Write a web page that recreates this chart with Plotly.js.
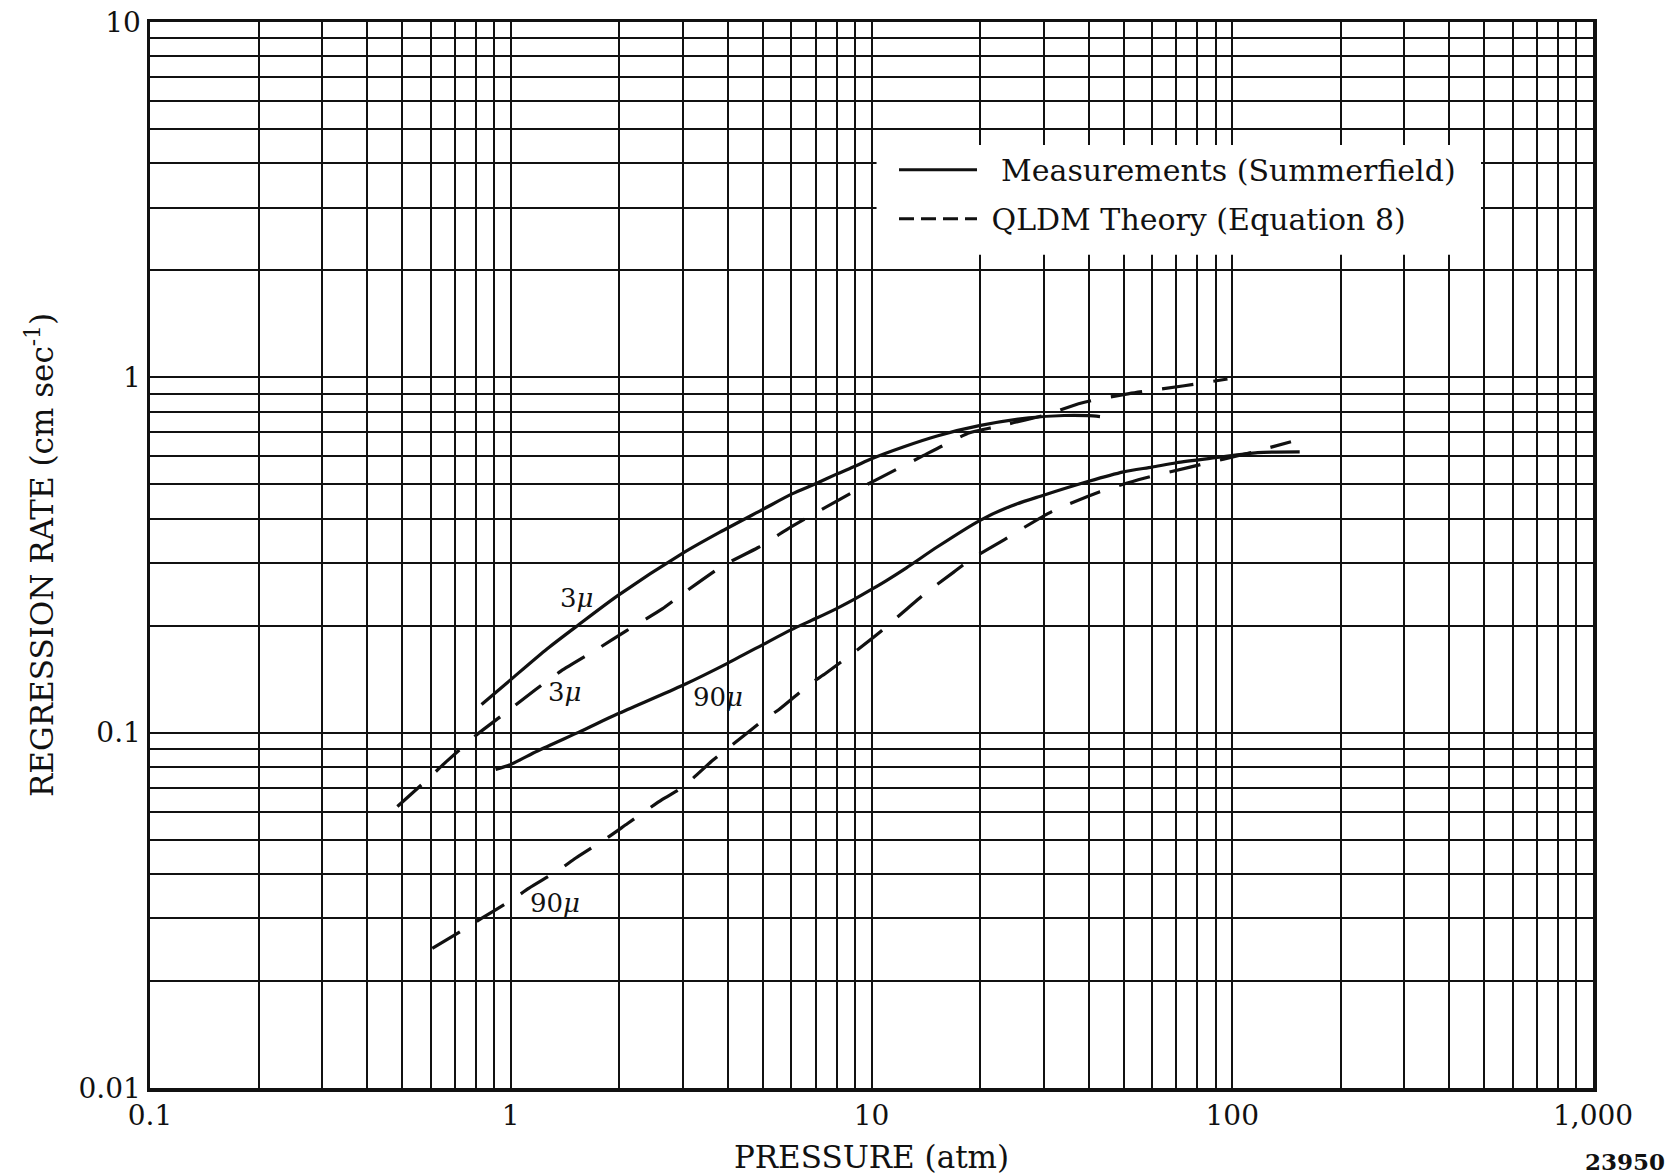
<!DOCTYPE html>
<html>
<head>
<meta charset="utf-8">
<script src="https://cdn.plot.ly/plotly-3.0.1.min.js"></script>
<style>
  html, body { margin: 0; padding: 0; background: #fff; }
  #chart { width: 1676px; height: 1176px; }
</style>
</head>
<body>
<div id="chart"></div>
<script>
// ---------------- data ----------------
// Measurements (Summerfield), 3 micron
const meas3x = [0.83, 1.0, 1.26, 1.53, 1.98, 3, 3.79, 5, 6, 7, 8, 9, 10, 12.3, 15.2, 19.9, 27.3, 34.2, 40, 43];
const meas3y = [0.12, 0.141, 0.172, 0.2, 0.243, 0.32, 0.366, 0.425, 0.469, 0.502, 0.534, 0.562, 0.59, 0.638, 0.684, 0.731, 0.769, 0.781, 0.78, 0.775];

// Measurements (Summerfield), 90 micron
const meas90x = [0.908, 1.0, 1.186, 1.565, 1.98, 3, 4, 5, 6, 7, 8, 9, 10, 11, 12.5, 15.2, 20, 24.3, 29.4, 40, 50, 60, 70, 90, 117.6, 153.8];
const meas90y = [0.0788, 0.0814, 0.0888, 0.101, 0.113, 0.136, 0.157, 0.177, 0.195, 0.2095, 0.2235, 0.238, 0.253, 0.268, 0.291, 0.333, 0.396, 0.434, 0.463, 0.51, 0.542, 0.559, 0.575, 0.594, 0.614, 0.617];

// QLDM Theory (Equation 8), 3 micron
const theo3x = [0.485, 0.58, 0.664, 0.808, 0.948, 1.17, 1.377, 1.74, 2.1, 2.63, 3.08, 3.87, 4.85, 6.0, 7.13, 9.42, 11.3, 13.7, 15.7, 18.7, 22.3, 30, 38.2, 51.8, 73.6, 97];
const theo3y = [0.062, 0.073, 0.083, 0.099, 0.112, 0.132, 0.149, 0.172, 0.194, 0.223, 0.251, 0.295, 0.332, 0.38, 0.42, 0.491, 0.54, 0.597, 0.641, 0.698, 0.727, 0.781, 0.847, 0.9, 0.947, 0.989];

// QLDM Theory (Equation 8), 90 micron
const theo90x = [0.606, 0.726, 0.825, 1.01, 1.124, 1.362, 1.515, 1.846, 2.108, 2.626, 3.0, 3.63, 4.13, 5.11, 5.53, 6.75, 7.47, 9.07, 10.5, 12.6, 13.9, 16.9, 18.8, 23.3, 26.2, 31.6, 42.8, 56.6, 76.4, 117.6, 145.5];
const theo90y = [0.0247, 0.0276, 0.0299, 0.0339, 0.0365, 0.0411, 0.0444, 0.0505, 0.0555, 0.0648, 0.0703, 0.0836, 0.0927, 0.110, 0.116, 0.137, 0.147, 0.170, 0.191, 0.224, 0.244, 0.283, 0.307, 0.349, 0.3755, 0.419, 0.476, 0.519, 0.559, 0.621, 0.659];

// Curve labels
const curveLabels = ['3<i>μ</i>', '3<i>μ</i>', '90<i>μ</i>', '90<i>μ</i>'];
const curveLabelX = [1.52, 1.41, 3.75, 1.33];
const curveLabelY = [0.240, 0.130, 0.126, 0.0331];

// Axis ticks
const xMajor = [0.1, 1, 10, 100, 1000];
const xMajorLabels = ['0.1', '1', '10', '100', '1,000'];
const yMajor = [0.01, 0.1, 1, 10];
const yMajorLabels = ['0.01', '0.1', '1', '10'];
const minorMult = [2, 3, 4, 5, 6, 7, 8, 9];

const seriesNames = ['Measurements (Summerfield)', 'QLDM Theory (Equation 8)'];
const figureNumber = '23950';

// ---------------- build ----------------
function buildTicks(majors, labels) {
  const vals = [], text = [];
  majors.forEach((m, i) => {
    vals.push(m); text.push(labels[i]);
    if (i < majors.length - 1) {
      minorMult.forEach(k => { vals.push(m * k); text.push(''); });
    }
  });
  return { vals, text };
}
const xt = buildTicks(xMajor, xMajorLabels);
const yt = buildTicks(yMajor, yMajorLabels);

const FONT = 'DejaVu Serif, Liberation Serif, serif';
const solid = { color: '#111', width: 3.2, dash: 'solid', shape: 'spline', smoothing: 0.7 };
const dashed = { color: '#111', width: 3.2, dash: '32px,20px', shape: 'spline', smoothing: 0.6 };
const pad = '\u00a0\u00a0';

const traces = [
  { x: meas3x, y: meas3y, mode: 'lines', line: solid, name: seriesNames[0], showlegend: false },
  { x: meas90x, y: meas90y, mode: 'lines', line: solid, name: seriesNames[0], showlegend: false },
  { x: theo3x, y: theo3y, mode: 'lines', line: dashed, name: seriesNames[1], showlegend: false },
  { x: theo90x, y: theo90y, mode: 'lines', line: dashed, name: seriesNames[1], showlegend: false },
  // legend keys only (no data)
  { x: [null], y: [null], mode: 'lines', line: { color: '#111', width: 3.2, dash: 'solid' },
    name: pad + seriesNames[0], legendgroup: 'm', showlegend: true, legendrank: 1, hoverinfo: 'skip' },
  { x: [null], y: [null], mode: 'lines', line: { color: '#111', width: 3.2, dash: '15px,7px' },
    name: '\u00a0' + seriesNames[1], legendgroup: 't', showlegend: true, legendrank: 2, hoverinfo: 'skip' }
];

const annotations = curveLabels.map((t, i) => ({
  text: t, x: Math.log10(curveLabelX[i]), y: Math.log10(curveLabelY[i]),
  xref: 'x', yref: 'y', showarrow: false,
  font: { family: FONT, size: 26, color: '#111' }
}));
annotations.push({
  text: '<b>' + figureNumber + '</b>', xref: 'paper', yref: 'paper',
  x: 1.051, y: -0.069, xanchor: 'right', yanchor: 'middle', showarrow: false,
  font: { family: FONT, size: 23, color: '#111' }
});

const axisCommon = {
  type: 'log',
  showgrid: true, gridcolor: '#111', gridwidth: 2,
  zeroline: false,
  showline: true, linecolor: '#111', linewidth: 3.5, mirror: true,
  ticks: '', tickmode: 'array',
  tickfont: { family: FONT, size: 28, color: '#111' }
};

const layout = {
  width: 1676, height: 1176,
  paper_bgcolor: '#fff', plot_bgcolor: '#fff',
  margin: { l: 150, r: 83, t: 22, b: 88 },
  showlegend: true,
  legend: {
    x: 0.5156, y: 0.8858, xanchor: 'left', yanchor: 'top',
    bgcolor: 'rgba(255,255,255,0)', borderwidth: 0,
    font: { family: FONT, size: 30, color: '#111' },
    itemwidth: 78, tracegroupgap: 7, traceorder: 'grouped',
    itemclick: false, itemdoubleclick: false
  },
  shapes: [{
    type: 'rect', xref: 'paper', yref: 'paper', layer: 'above',
    x0: 0.5035, x1: 0.9224, y0: 0.7816, y1: 0.8847,
    fillcolor: '#fff', line: { width: 0 }
  }],
  xaxis: Object.assign({}, axisCommon, {
    range: [-1, 3], tickvals: xt.vals, ticktext: xt.text,
    title: { text: 'PRESSURE (atm)', font: { family: FONT, size: 31, color: '#111' }, standoff: 16 }
  }),
  yaxis: Object.assign({}, axisCommon, {
    range: [-2, 1], tickvals: yt.vals, ticktext: yt.text,
    title: { text: 'REGRESSION RATE (cm sec<sup>-1</sup>)', font: { family: FONT, size: 31, color: '#111' }, standoff: 16 }
  }),
  annotations: annotations
};

Plotly.newPlot('chart', traces, layout, { staticPlot: true, displayModeBar: false });
</script>
</body>
</html>
